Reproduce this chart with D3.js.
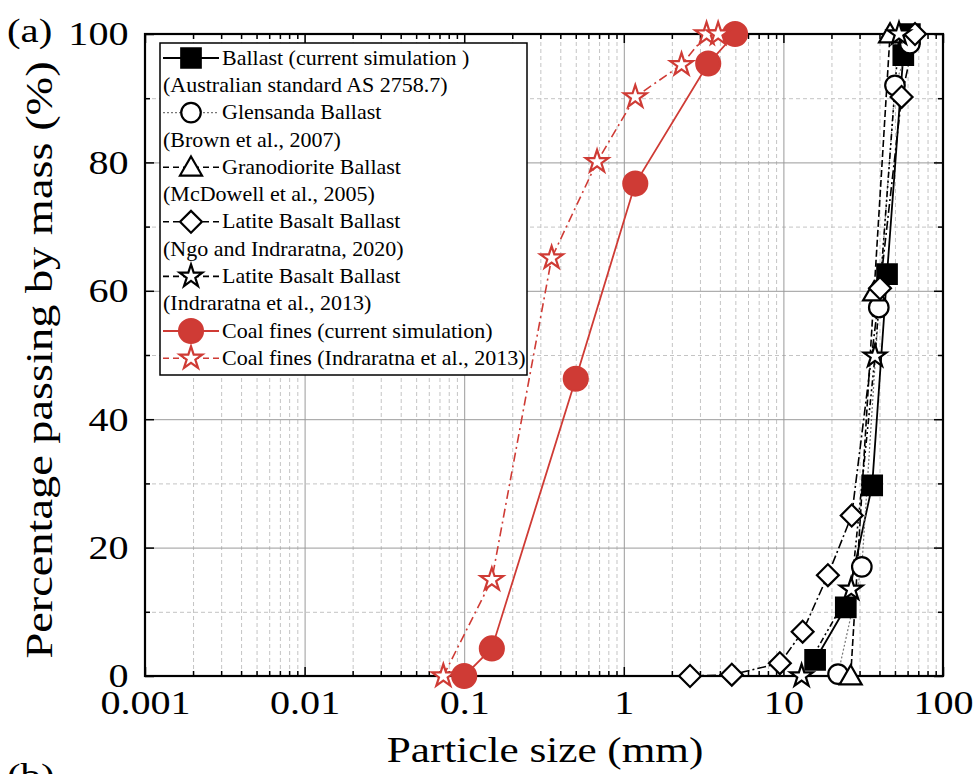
<html>
<head>
<meta charset="utf-8">
<title>Particle size distribution</title>
<style>
  body { margin: 0; background: #fff; }
  svg text { font-family: "Liberation Serif", "Times New Roman", serif; fill: #000; }
  .grid-major line { stroke: #9a9a9a; stroke-width: 1; }
  .grid-minor line { stroke: #c4c4c4; stroke-width: 1; stroke-dasharray: 4,3; }
  .grid-major path, .grid-minor path { display: none; }
  .axis path { display: none; }
  .axis line { stroke: #000; stroke-width: 1.5; }
  .axis text { font-size: 34px; }
</style>
</head>
<body>
<div id="chart"></div>
<script src="https://d3js.org/d3.v7.min.js"></script>
<script type="text/javascript">
    // --- data ---
    var xTicks = [0.001, 0.01, 0.1, 1, 10, 100];
    var xTickLabels = ["0.001", "0.01", "0.1", "1", "10", "100"];
    var yTicks = [0, 20, 40, 60, 80, 100];
    var yMinorTicks = [10, 30, 50, 70, 90];

    var ballastSim = [[15.8, 2.5], [24.6, 10.7], [36, 29.7], [44.6, 62.6], [56.4, 96.7], [62, 100]];
    var glensanda = [[22, 0.3], [31, 17], [39.6, 57.4], [50, 92], [62, 98.5]];
    var granodiorite = [[26.4, 0], [37, 59.8], [46.6, 100]];
    var latiteNgo = [[2.6, 0], [4.75, 0.2], [9.5, 2], [13.2, 6.9], [19, 15.7], [26.8, 25], [40.3, 60.4], [55, 90.2], [66.8, 100]];
    var latiteIndra = [[13, 0], [26.6, 13.5], [37.5, 49.8], [53, 100]];
    var coalSim = [[0.1, 0], [0.149, 4.3], [0.5, 46.3], [1.18, 76.7], [3.38, 95.4], [4.98, 100]];
    var coalRef = [[0.074, 0], [0.149, 15], [0.353, 65.1], [0.68, 80.1], [1.18, 90.2], [2.3, 95.2], [3.3, 100], [3.9, 100]];

    var legendLabels = [
        ["Ballast (current simulation )", "(Australian standard AS 2758.7)"],
        ["Glensanda Ballast", "(Brown et al., 2007)"],
        ["Granodiorite Ballast", "(McDowell et al., 2005)"],
        ["Latite Basalt Ballast", "(Ngo and Indraratna, 2020)"],
        ["Latite Basalt Ballast", "(Indraratna et al., 2013)"],
        ["Coal fines (current simulation)"],
        ["Coal fines (Indraratna et al., 2013)"]
    ];

    var red = "#cf3b35";
    var series = [
        {data: ballastSim, shape: "square", color: "#000", fill: "#000", dash: null, lw: 1.8},
        {data: glensanda, shape: "circle", color: "#000", fill: "#fff", dash: "2,2", lw: 1.2, lineColor: "#777"},
        {data: granodiorite, shape: "triangle", color: "#000", fill: "#fff", dash: "7,3", lw: 1.6},
        {data: latiteNgo, shape: "diamond", color: "#000", fill: "#fff", dash: "9,3,2,3", lw: 1.6},
        {data: latiteIndra, shape: "star", color: "#000", fill: "#fff", dash: "6,3,2,3,2,3", lw: 1.6},
        {data: coalSim, shape: "bigcircle", color: red, fill: red, dash: null, lw: 1.8},
        {data: coalRef, shape: "star", color: red, fill: "#fff", dash: "9,4,2,4", lw: 1.6}
    ];

    var width = 976, height = 774;
    var pl = 145, pr = 943, pt = 34, pb = 676;

    var svg = d3.select("#chart").append("svg")
        .attr("width", width).attr("height", height);

    var x = d3.scaleLog().domain([0.001, 100]).range([pl, pr]);
    var y = d3.scaleLinear().domain([0, 100]).range([pb, pt]);

    var xMinor = [];
    for (var d = 0.001; d < 100; d *= 10) {
        for (var k = 2; k <= 9; k++) xMinor.push(+(d * k).toPrecision(3));
    }

    // gridlines
    svg.append("g").attr("class", "grid-minor")
        .attr("transform", "translate(0," + pb + ")")
        .call(d3.axisBottom(x).tickValues(xMinor).tickSize(-(pb - pt)).tickFormat(""));
    svg.append("g").attr("class", "grid-minor")
        .attr("transform", "translate(" + pl + ",0)")
        .call(d3.axisLeft(y).tickValues(yMinorTicks).tickSize(-(pr - pl)).tickFormat(""));
    svg.append("g").attr("class", "grid-major")
        .attr("transform", "translate(0," + pb + ")")
        .call(d3.axisBottom(x).tickValues(xTicks.slice(1, -1)).tickSize(-(pb - pt)).tickFormat(""));
    svg.append("g").attr("class", "grid-major")
        .attr("transform", "translate(" + pl + ",0)")
        .call(d3.axisLeft(y).tickValues(yTicks.slice(1, -1)).tickSize(-(pr - pl)).tickFormat(""));

    // axes with inward ticks
    var xAxisG = svg.append("g").attr("class", "axis")
        .attr("transform", "translate(0," + pb + ")")
        .call(d3.axisBottom(x).tickValues(xTicks).tickSize(-9).tickPadding(14)
            .tickFormat(function (v, i) { return xTickLabels[i]; }));
    xAxisG.selectAll("text").attr("transform", "scale(1.18,1)");
    svg.append("g").attr("class", "axis")
        .attr("transform", "translate(0," + pb + ")")
        .call(d3.axisBottom(x).tickValues(xMinor).tickSize(-5).tickFormat(""));
    svg.append("g").attr("class", "axis")
        .attr("transform", "translate(0," + pt + ")")
        .call(d3.axisTop(x).tickValues(xTicks).tickSize(-9).tickFormat(""));
    svg.append("g").attr("class", "axis")
        .attr("transform", "translate(0," + pt + ")")
        .call(d3.axisTop(x).tickValues(xMinor).tickSize(-5).tickFormat(""));
    var yAxisG = svg.append("g").attr("class", "axis")
        .attr("transform", "translate(" + pl + ",0)")
        .call(d3.axisLeft(y).tickValues(yTicks).tickSize(-9).tickPadding(14));
    yAxisG.selectAll("text").attr("transform", "scale(1.18,1)");
    svg.append("g").attr("class", "axis")
        .attr("transform", "translate(" + pl + ",0)")
        .call(d3.axisLeft(y).tickValues(yMinorTicks).tickSize(-5).tickFormat(""));
    svg.append("g").attr("class", "axis")
        .attr("transform", "translate(" + pr + ",0)")
        .call(d3.axisRight(y).tickValues(yTicks).tickSize(-9).tickFormat(""));
    svg.append("g").attr("class", "axis")
        .attr("transform", "translate(" + pr + ",0)")
        .call(d3.axisRight(y).tickValues(yMinorTicks).tickSize(-5).tickFormat(""));

    svg.append("rect")
        .attr("x", pl).attr("y", pt)
        .attr("width", pr - pl).attr("height", pb - pt)
        .attr("fill", "none").attr("stroke", "#000").attr("stroke-width", 2.2);

    // titles
    svg.append("text")
        .attr("transform", "translate(545,762) scale(1.2,1)")
        .attr("text-anchor", "middle").style("font-size", "36px")
        .text("Particle size (mm)");
    svg.append("text")
        .attr("transform", "translate(52,360) rotate(-90) scale(1.22,1)")
        .attr("text-anchor", "middle").style("font-size", "38px")
        .text("Percentage passing by mass (%)");
    svg.append("text").attr("transform", "translate(7,42) scale(1.2,1)")
        .style("font-size", "34px").text("(a)");
    svg.append("text").attr("transform", "translate(7,787) scale(1.2,1)")
        .style("font-size", "34px").text("(b)");

    function symbolPath(shape) {
        if (shape === "square") return d3.symbol(d3.symbolSquare, 380)();
        if (shape === "circle") return d3.symbol(d3.symbolCircle, 300)();
        if (shape === "bigcircle") return d3.symbol(d3.symbolCircle, 450)();
        if (shape === "triangle") return d3.symbol(d3.symbolTriangle, 210)();
        if (shape === "diamond") return d3.symbol(d3.symbolSquare, 240)();
        return d3.symbol(d3.symbolStar, 160)();
    }
    function symbolTransform(shape, px, py) {
        var t = "translate(" + px + "," + py + ")";
        if (shape === "diamond") t += " rotate(45)";
        if (shape === "triangle") t += " translate(0,2)";
        return t;
    }

    var line = d3.line()
        .x(function (d) { return x(d[0]); })
        .y(function (d) { return y(d[1]); });

    var plot = svg.append("g");
    series.forEach(function (s) {
        plot.append("path")
            .datum(s.data)
            .attr("d", line)
            .attr("fill", "none")
            .attr("stroke", s.lineColor || s.color)
            .attr("stroke-width", s.lw)
            .attr("stroke-dasharray", s.dash);
    });
    series.forEach(function (s) {
        plot.selectAll(null)
            .data(s.data).enter()
            .append("path")
            .attr("d", symbolPath(s.shape))
            .attr("transform", function (d) { return symbolTransform(s.shape, x(d[0]), y(d[1])); })
            .attr("fill", s.fill)
            .attr("stroke", s.color)
            .attr("stroke-width", 2.2);
    });

    // legend
    var lg = svg.append("g");
    lg.append("rect")
        .attr("x", 160).attr("y", 43).attr("width", 367).attr("height", 332)
        .attr("fill", "#fff").attr("stroke", "#000").attr("stroke-width", 1.5);
    var row = 0, rowH = 27.3, y0 = 58;
    series.forEach(function (s, i) {
        var cy = y0 + row * rowH;
        lg.append("line")
            .attr("x1", 163).attr("x2", 219).attr("y1", cy).attr("y2", cy)
            .attr("stroke", s.lineColor || s.color)
            .attr("stroke-width", s.lw)
            .attr("stroke-dasharray", s.dash ? (i === 1 ? "2,2" : "6,4") : null);
        lg.append("path")
            .attr("d", symbolPath(s.shape))
            .attr("transform", symbolTransform(s.shape, 191, cy))
            .attr("fill", s.fill).attr("stroke", s.color).attr("stroke-width", 2.2);
        lg.append("text").attr("transform", "translate(222," + cy + ") scale(1.1,1)")
            .attr("dy", "0.33em")
            .style("font-size", "20px").text(legendLabels[i][0]);
        row++;
        if (legendLabels[i][1]) {
            lg.append("text").attr("transform", "translate(163," + (y0 + row * rowH) + ") scale(1.1,1)")
                .attr("dy", "0.33em")
                .style("font-size", "20px").text(legendLabels[i][1]);
            row++;
        }
    });
</script>
</body>
</html>
